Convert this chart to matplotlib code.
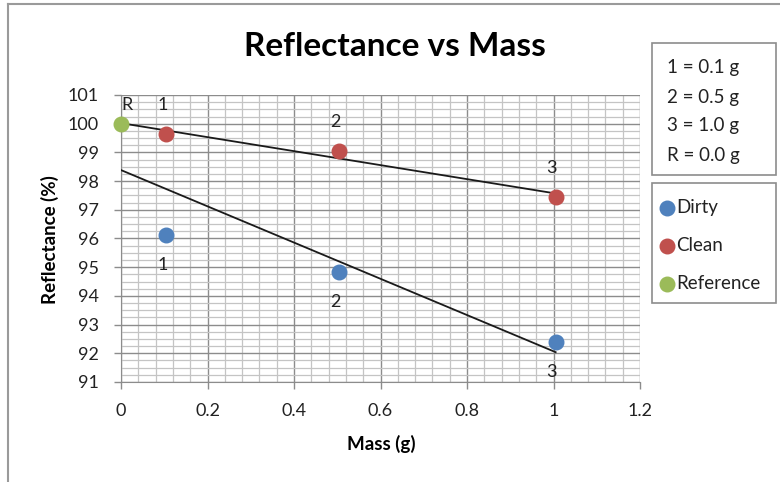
import numpy as np
import matplotlib
matplotlib.use("Agg")
import matplotlib.pyplot as plt
from matplotlib.patches import Rectangle
from matplotlib.lines import Line2D
from matplotlib.ticker import MultipleLocator

plt.rcParams['font.family'] = ['Lato', 'DejaVu Sans']

# measurements (mass in g, reflectance in %)
ref_mass = [0.0]
ref_refl = [100.0]
mass = [0.105, 0.505, 1.005]
dirty = [96.12, 94.83, 92.39]
clean = [99.64, 99.05, 97.45]
point_labels = ['1', '2', '3']
key_lines = ['1 = 0.1 g', '2 = 0.5 g', '3 = 1.0 g', 'R = 0.0 g']
xtick_labels = ['0', '0.2', '0.4', '0.6', '0.8', '1', '1.2']

blue, red, green = '#4F81BD', '#C0504D', '#9BBB59'
txt = '#222222'

W, H = 780, 482
fig = plt.figure(figsize=(W / 100, H / 100), dpi=100)
ax = fig.add_axes([121 / W, 1 - 382 / H, 519 / W, 287 / H])

# linear trend lines fitted through the reference point as well
x_all = np.array(ref_mass + mass)
for ys in (dirty, clean):
    y_all = np.array(ref_refl + ys)
    k, b = np.polyfit(x_all, y_all, 1)
    xx = np.array([x_all.min(), x_all.max()])
    ax.plot(xx, k * xx + b, color='#1a1a1a', lw=1.3, zorder=3)

ax.scatter(mass, dirty, s=110, color=blue, zorder=4, label='Dirty', clip_on=False)
ax.scatter(mass, clean, s=110, color=red, zorder=4, label='Clean', clip_on=False)
ax.scatter(ref_mass, ref_refl, s=110, color=green, zorder=4, label='Reference', clip_on=False)

# point labels
for x, y, t in zip(mass, clean, point_labels):
    ax.annotate(t, (x, y), xytext=(-4, 29), textcoords='offset pixels',
                ha='center', va='center', fontsize=13, color=txt)
for x, y, t in zip(mass, dirty, point_labels):
    ax.annotate(t, (x, y), xytext=(-4, -30), textcoords='offset pixels',
                ha='center', va='center', fontsize=13, color=txt)
ax.annotate('R', (ref_mass[0], ref_refl[0]), xytext=(6, 19), textcoords='offset pixels',
            ha='center', va='center', fontsize=13, color=txt)

ax.set_xlim(0, 1.2)
ax.set_ylim(91, 101)
ax.set_xticks(np.arange(0, 1.21, 0.2))
ax.set_xticklabels(xtick_labels)
ax.xaxis.set_minor_locator(MultipleLocator(0.04))
ax.yaxis.set_major_locator(MultipleLocator(1))
ax.yaxis.set_minor_locator(MultipleLocator(0.25))
ax.grid(which='major', color='#8c8c8c', lw=1.0, zorder=1)
ax.grid(which='minor', color='#c4c4c4', lw=0.9, zorder=0)
ax.set_axisbelow(True)
ax.tick_params(which='major', direction='out', length=5, width=1, color='#8c8c8c',
               labelsize=13, labelcolor=txt)
ax.tick_params(axis='x', pad=10)
ax.tick_params(axis='y', pad=11)
ax.tick_params(which='minor', length=0)
for side in ('top', 'right'):
    ax.spines[side].set_visible(False)
for side in ('left', 'bottom'):
    ax.spines[side].set_color('#8c8c8c')

fig.text(395 / W, 1 - 47 / H, 'Reflectance vs Mass', fontsize=24, fontweight='bold',
         ha='center', va='center')
fig.text(50 / W, 1 - 240 / H, 'Reflectance (%)', fontsize=13.5, fontweight='bold',
         rotation=90, ha='center', va='center')
fig.text(381 / W, 1 - 444 / H, 'Mass (g)', fontsize=13.5, fontweight='bold',
         ha='center', va='center')

# outer chart border
fig.add_artist(Line2D([8 / W, 8 / W], [0, 1 - 4 / H], color='#9a9a9a', lw=1.5))
fig.add_artist(Line2D([8 / W, 1], [1 - 4 / H, 1 - 4 / H], color='#9a9a9a', lw=1.5))

# key boxes
fig.add_artist(Rectangle((652 / W, 1 - 175 / H), 124 / W, 132 / H, transform=fig.transFigure,
                         fill=False, edgecolor='#8c8c8c', lw=1.2))
fig.add_artist(Rectangle((652 / W, 1 - 303 / H), 124 / W, 120 / H, transform=fig.transFigure,
                         fill=False, edgecolor='#8c8c8c', lw=1.2))
for i, t in enumerate(key_lines):
    fig.text(667 / W, 1 - (68 + 29 * i) / H, t, fontsize=13.5, color=txt,
             ha='left', va='center')

leg = ax.legend(loc='upper left', bbox_to_anchor=(646 / W, 1 - 190 / H),
                bbox_transform=fig.transFigure, frameon=False, fontsize=13.5,
                handletextpad=-0.1, labelspacing=1.12, borderpad=0, handlelength=1.2,
                markerscale=1.0)
for t in leg.get_texts():
    t.set_color(txt)

fig.savefig('out.png', dpi=100)
